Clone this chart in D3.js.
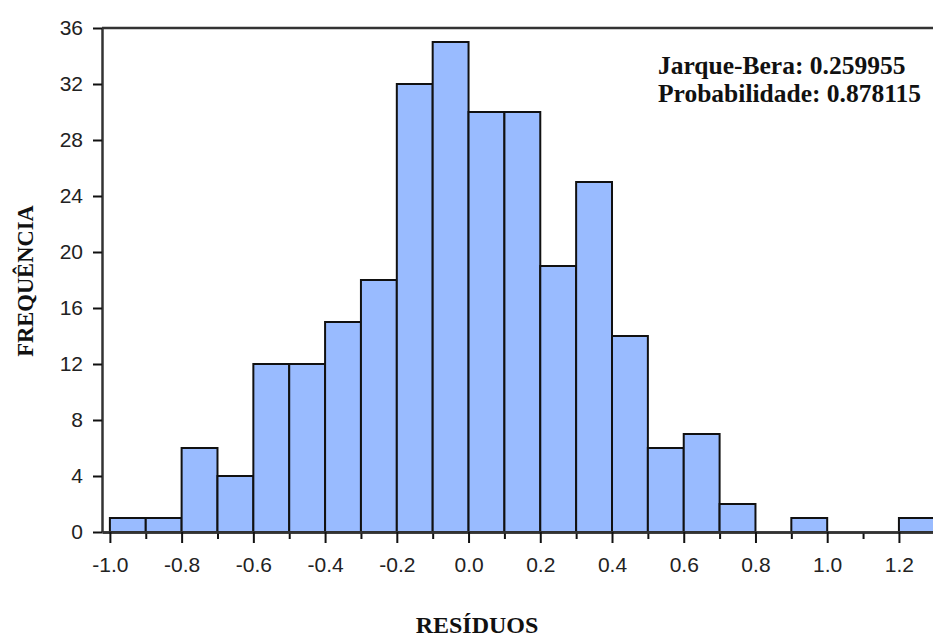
<html>
<head>
<style>
body { margin: 0; background: #fff; }
svg { display: block; }
.tick text { font-family: "Liberation Sans", Arial, sans-serif; font-size: 21px; fill: #222; }
.tick line { stroke: #111; stroke-width: 2; }
.domain { stroke: #333; stroke-width: 2.5; }
.bar { fill: #99bbff; stroke: #111; stroke-width: 2; }
.lbl { font-family: "Liberation Serif", "Times New Roman", serif; font-weight: bold; fill: #111; }
</style>
</head>
<body>
<script src="https://d3js.org/d3.v7.min.js"></script>
<script>

// histogram bins (left edge) and their counts
const binStart = [-1.0, -0.9, -0.8, -0.7, -0.6, -0.5, -0.4, -0.3, -0.2, -0.1, 0.0, 0.1,
  0.2, 0.3, 0.4, 0.5, 0.6, 0.7, 0.8, 0.9, 1.0, 1.1, 1.2];
const counts = [1, 1, 6, 4, 12, 12, 15, 18, 32, 35, 30, 30, 19, 25, 14, 6, 7, 2, 0, 1, 0, 0, 1];
const binWidth = 0.1;

const yTicks = [0, 4, 8, 12, 16, 20, 24, 28, 32, 36];
const xMajor = [-1.0, -0.8, -0.6, -0.4, -0.2, 0.0, 0.2, 0.4, 0.6, 0.8, 1.0, 1.2];
const xMinor = [-0.9, -0.7, -0.5, -0.3, -0.1, 0.1, 0.3, 0.5, 0.7, 0.9, 1.1];

const stats = ["Jarque-Bera: 0.259955", "Probabilidade: 0.878115"];

const width = 933, height = 637;
const plotLeft = 102, plotTop = 28, plotBottom = 532;

const svg = d3.select('body').append('svg')
  .attr('width', width)
  .attr('height', height);

const x = d3.scaleLinear()
  .domain([-1.022, 1.295])
  .range([plotLeft, width]);

const y = d3.scaleLinear()
  .domain([0, 36])
  .range([plotBottom, plotTop]);

// bars
svg.selectAll('rect.bar')
  .data(binStart.map((s, i) => ({ s: s, c: counts[i] })).filter(d => d.c > 0))
  .enter().append('rect')
  .attr('class', 'bar')
  .attr('x', d => x(d.s))
  .attr('width', d => x(d.s + binWidth) - x(d.s))
  .attr('y', d => y(d.c))
  .attr('height', d => y(0) - y(d.c));

// top frame line
svg.append('line')
  .attr('x1', plotLeft).attr('x2', width)
  .attr('y1', plotTop).attr('y2', plotTop)
  .attr('stroke', '#333').attr('stroke-width', 2.5);

// y axis
svg.append('g')
  .attr('transform', `translate(${plotLeft},0)`)
  .call(d3.axisLeft(y).tickValues(yTicks).tickSize(9).tickSizeOuter(0).tickPadding(10));

// x axis, minor ticks
svg.append('g')
  .attr('transform', `translate(0,${plotBottom})`)
  .call(d3.axisBottom(x).tickValues(xMinor).tickSize(7).tickSizeOuter(0).tickFormat(''));

// x axis, major ticks with labels
svg.append('g')
  .attr('transform', `translate(0,${plotBottom})`)
  .call(d3.axisBottom(x).tickValues(xMajor).tickSize(11).tickSizeOuter(0).tickPadding(14)
    .tickFormat(d => d.toFixed(1)));

// stats box
svg.append('text')
  .attr('class', 'lbl')
  .attr('x', 658)
  .attr('y', 74)
  .style('font-size', '25.5px')
  .selectAll('tspan')
  .data(stats)
  .enter().append('tspan')
  .attr('x', 658)
  .attr('dy', (d, i) => i === 0 ? 0 : 28)
  .text(d => d);

// axis titles
svg.append('text')
  .attr('class', 'lbl')
  .attr('transform', 'translate(33,281) rotate(-90)')
  .attr('text-anchor', 'middle')
  .style('font-size', '22.5px')
  .text('FREQUÊNCIA');

svg.append('text')
  .attr('class', 'lbl')
  .attr('x', 477)
  .attr('y', 633)
  .attr('text-anchor', 'middle')
  .style('font-size', '24px')
  .text('RESÍDUOS');

</script>
</body>
</html>
